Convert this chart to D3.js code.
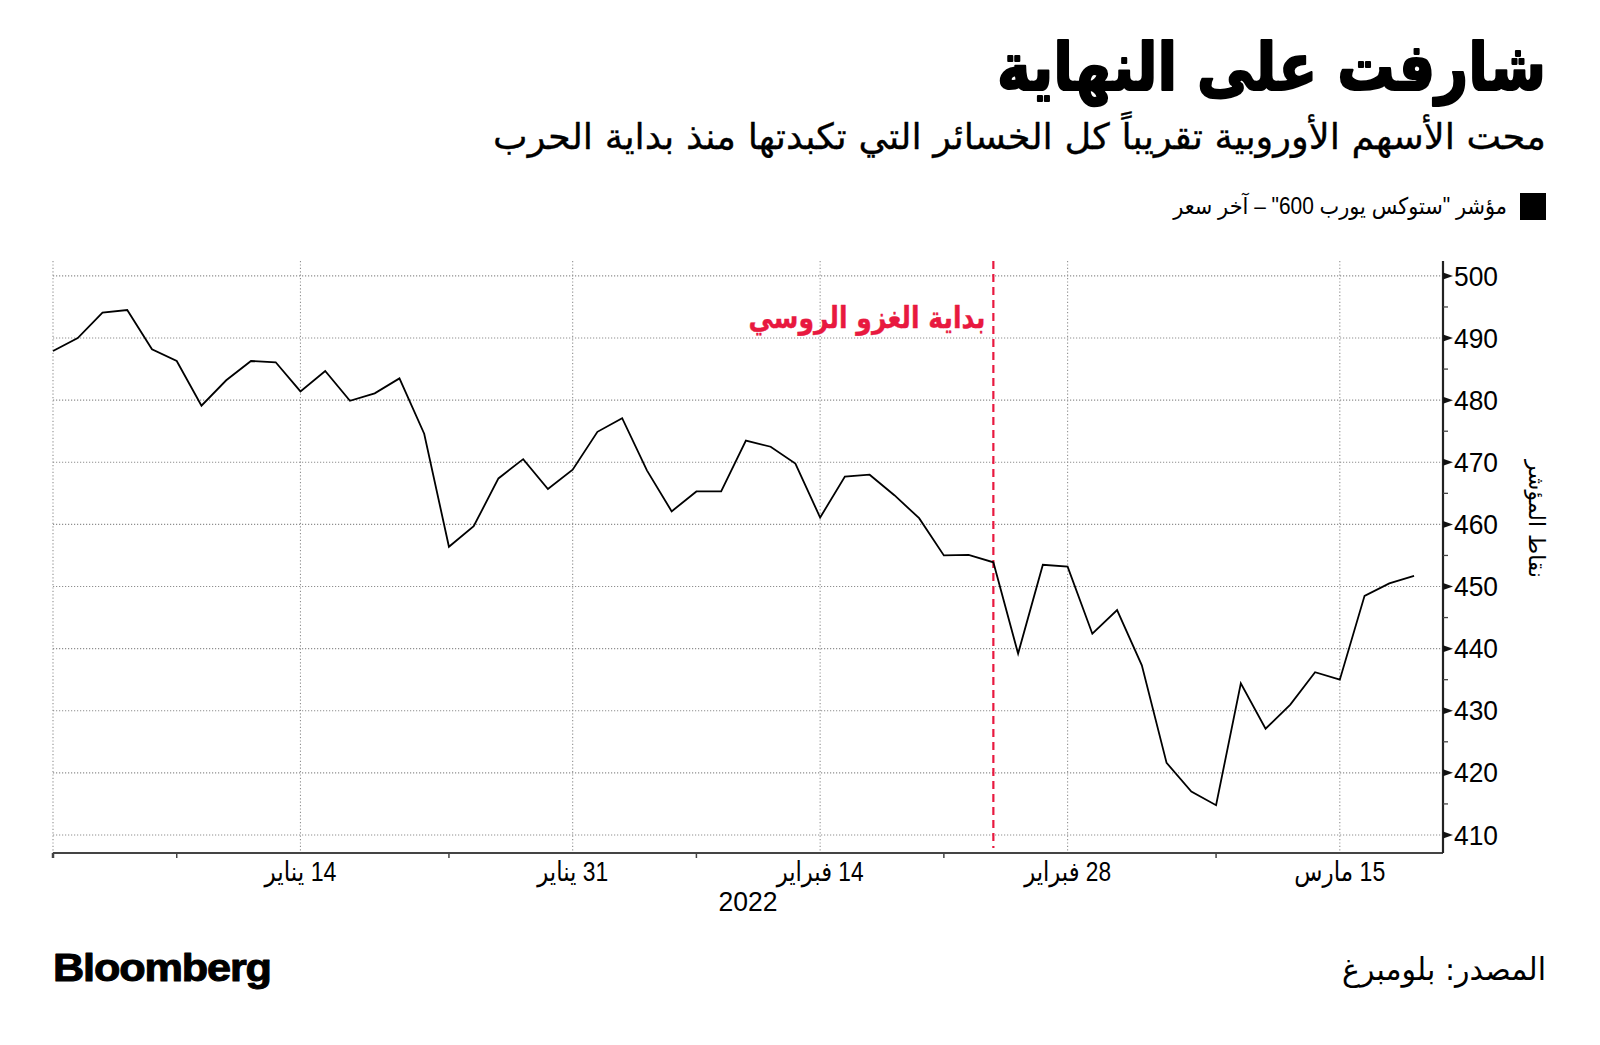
<!DOCTYPE html>
<html>
<head>
<meta charset="utf-8">
<script src="https://cdn.jsdelivr.net/npm/d3@7"></script>
<style>
  html, body { margin: 0; padding: 0; background: #fff; }
  svg { display: block; }
</style>
</head>
<body>
<svg id="chart" width="1600" height="1045"></svg>
<script>
// ---------- DATA ----------
const dates = [
  "2021-12-31",
  "2022-01-03","2022-01-04","2022-01-05","2022-01-06","2022-01-07",
  "2022-01-10","2022-01-11","2022-01-12","2022-01-13","2022-01-14",
  "2022-01-17","2022-01-18","2022-01-19","2022-01-20","2022-01-21",
  "2022-01-24","2022-01-25","2022-01-26","2022-01-27","2022-01-28",
  "2022-01-31","2022-02-01","2022-02-02","2022-02-03","2022-02-04",
  "2022-02-07","2022-02-08","2022-02-09","2022-02-10","2022-02-11",
  "2022-02-14","2022-02-15","2022-02-16","2022-02-17","2022-02-18",
  "2022-02-21","2022-02-22","2022-02-23","2022-02-24","2022-02-25",
  "2022-02-28","2022-03-01","2022-03-02","2022-03-03","2022-03-04",
  "2022-03-07","2022-03-08","2022-03-09","2022-03-10","2022-03-11",
  "2022-03-14","2022-03-15","2022-03-16","2022-03-17","2022-03-18"
];
const values = [
  487.9,
  490.0, 494.1, 494.5, 488.2, 486.3,
  479.1, 483.2, 486.3, 486.1, 481.4,
  484.7, 479.9, 481.1, 483.5, 474.6,
  456.4, 459.7, 467.4, 470.5, 465.7,
  468.8, 474.9, 477.1, 468.7, 462.1,
  465.3, 465.3, 473.5, 472.5, 469.8,
  461.1, 467.7, 468.0, 464.7, 461.0,
  455.0, 455.1, 453.9, 439.2, 453.5,
  453.2, 442.4, 446.2, 437.3, 421.6,
  417.0, 414.8, 434.4, 427.1, 431.0,
  436.2, 435.0, 448.5, 450.5, 451.7
];
const yTickValues = [410, 420, 430, 440, 450, 460, 470, 480, 490, 500];
const yMinorValues = [415, 425, 435, 445, 455, 465, 475, 485, 495];
const xTickDates = ["2022-01-14", "2022-01-31", "2022-02-14", "2022-02-28", "2022-03-15"];
const xTickLabels = ["14 يناير", "31 يناير", "14 فبراير", "28 فبراير", "15 مارس"];
const xMinorDates = ["2021-12-31", "2022-01-07", "2022-01-24", "2022-02-07", "2022-02-21", "2022-03-08"];
const invasionDate = "2022-02-23";
const yearLabel = "2022";

const titleText = "شارفت على النهاية";
const subtitleText = "محت الأسهم الأوروبية تقريباً كل الخسائر التي تكبدتها منذ بداية الحرب";
const legendText = "مؤشر \"ستوكس يورب 600\" – آخر سعر";
const annotationText = "بداية الغزو الروسي";
const yAxisTitle = "نقاط المؤشر";
const sourceText = "المصدر: بلومبرغ";
const brandText = "Bloomberg";

// ---------- LAYOUT ----------
const plot = { left: 53, right: 1443, top: 261, bottom: 853 };
const RED = "#e8193f";
const AR = "'DejaVu Sans', 'Noto Sans', sans-serif";
const NUM = "'Liberation Sans', Arial, 'DejaVu Sans', sans-serif";

const svg = d3.select("#chart");

const x = d3.scaleLinear().domain([0, dates.length - 1 + 1.17]).range([plot.left, plot.right]);
const xd = d => x(dates.indexOf(d));
const y = d3.scaleLinear().domain([407.1, 502.4]).range([plot.bottom, plot.top]);

// helper to draw text fitted to a target width
function label(parent, px, py, txt, o) {
  const g = parent.append("g").attr("transform", `translate(${px},${py})` + (o.rotate ? ` rotate(${o.rotate})` : ""));
  const t = g.append("text")
    .attr("x", 0).attr("y", 0)
    .attr("font-family", o.family || AR)
    .attr("font-size", o.size)
    .attr("font-weight", o.weight || "normal")
    .attr("fill", o.fill || "#000")
    .attr("text-anchor", o.anchor || "start")
    .attr("direction", o.dir || "ltr")
    .style("direction", o.dir || "ltr")
    .attr("dominant-baseline", o.baseline || "alphabetic")
    .text(txt);
  if (o.letterSpacing) t.attr("letter-spacing", o.letterSpacing);
  if (o.stroke) t.attr("stroke", o.fill || "#000").attr("stroke-width", o.stroke).attr("stroke-linejoin", "round");
  if (o.width) {
    const w = t.node().getComputedTextLength();
    if (w > 0) t.attr("transform", `scale(${o.width / w},1)`);
  }
  return t;
}

// ---------- GRID ----------
const grid = svg.append("g");
grid.selectAll("line.h").data(yTickValues).join("line")
  .attr("x1", plot.left).attr("x2", plot.right)
  .attr("y1", d => y(d)).attr("y2", d => y(d))
  .attr("stroke", "#8f8f8f").attr("stroke-width", 1.1).attr("stroke-dasharray", "1.2,1.8");
grid.selectAll("line.v").data([dates[0]].concat(xTickDates)).join("line")
  .attr("x1", d => xd(d)).attr("x2", d => xd(d))
  .attr("y1", plot.top).attr("y2", plot.bottom)
  .attr("stroke", "#8f8f8f").attr("stroke-width", 1.1).attr("stroke-dasharray", "1.2,2.2");

// ---------- INVASION MARKER ----------
svg.append("line")
  .attr("x1", xd(invasionDate)).attr("x2", xd(invasionDate))
  .attr("y1", plot.top).attr("y2", 848)
  .attr("stroke", RED).attr("stroke-width", 2.2).attr("stroke-dasharray", "8,5");

label(svg, xd(invasionDate) - 8, 328, annotationText,
  { size: 30, weight: "bold", fill: RED, dir: "rtl", anchor: "start", width: 237, stroke: 0.4 });

// ---------- LINE ----------
const line = d3.line().x((d, i) => x(i)).y(d => y(d));
svg.append("path").datum(values)
  .attr("d", line)
  .attr("fill", "none").attr("stroke", "#000").attr("stroke-width", 1.8)
  .attr("stroke-linejoin", "miter");

// ---------- X AXIS ----------
const xAxisG = svg.append("g");
xAxisG.append("line")
  .attr("x1", plot.left).attr("x2", plot.right)
  .attr("y1", plot.bottom).attr("y2", plot.bottom)
  .attr("stroke", "#444").attr("stroke-width", 2);
xAxisG.selectAll("line.minor").data(xMinorDates).join("line")
  .attr("x1", d => xd(d)).attr("x2", d => xd(d))
  .attr("y1", plot.bottom).attr("y2", plot.bottom + 5)
  .attr("stroke", "#444").attr("stroke-width", d => d === dates[0] ? 2.5 : 1.5);
const xLabelWidths = [72, 71, 87, 87, 91];
xTickDates.forEach((d, i) => {
  label(xAxisG, xd(d), 881, xTickLabels[i],
    { size: 27, family: NUM + ", " + AR, dir: "rtl", anchor: "middle", width: xLabelWidths[i] });
});
label(xAxisG, (plot.left + plot.right) / 2, 911, yearLabel,
  { size: 27, family: NUM, anchor: "middle", width: 59 });

// ---------- Y AXIS (right) ----------
const yAxisG = svg.append("g");
yAxisG.append("line")
  .attr("x1", plot.right).attr("x2", plot.right)
  .attr("y1", plot.top).attr("y2", plot.bottom)
  .attr("stroke", "#222").attr("stroke-width", 2.2);
yAxisG.selectAll("path.tri").data(yTickValues).join("path")
  .attr("d", d => `M${plot.right},${y(d) - 3.5}L${plot.right + 10},${y(d)}L${plot.right},${y(d) + 3.5}Z`)
  .attr("fill", "#111");
yAxisG.selectAll("line.minor").data(yMinorValues).join("line")
  .attr("x1", plot.right).attr("x2", plot.right + 5)
  .attr("y1", d => y(d)).attr("y2", d => y(d))
  .attr("stroke", "#444").attr("stroke-width", 1.3);
yAxisG.selectAll("g.yl").data(yTickValues).join("g")
  .each(function (d) {
    label(d3.select(this), plot.right + 11, y(d) + 9.6, String(d),
      { size: 27, family: NUM, anchor: "start", width: 44 });
  });

label(svg, 1537, 519, yAxisTitle,
  { size: 22, rotate: 90, dir: "rtl", anchor: "middle", baseline: "central", width: 118 });

// ---------- HEADER ----------
label(svg, 1546, 90, titleText, { size: 66, weight: "bold", dir: "rtl", anchor: "start", width: 549, stroke: 2.2 });
label(svg, 1546, 149, subtitleText, { size: 36, dir: "rtl", anchor: "start", width: 1053, stroke: 0.3 });

// legend
svg.append("rect").attr("x", 1520).attr("y", 193).attr("width", 26).attr("height", 27).attr("fill", "#000");
label(svg, 1507, 214, legendText, { size: 23, family: NUM + ", " + AR, dir: "rtl", anchor: "start", width: 334 });

// ---------- FOOTER ----------
label(svg, 53, 981, brandText, { size: 38, weight: "bold", family: NUM, anchor: "start", width: 218, letterSpacing: -1, stroke: 1 });
label(svg, 1546, 980, sourceText, { size: 31, dir: "rtl", anchor: "start", width: 204 });
</script>
</body>
</html>
